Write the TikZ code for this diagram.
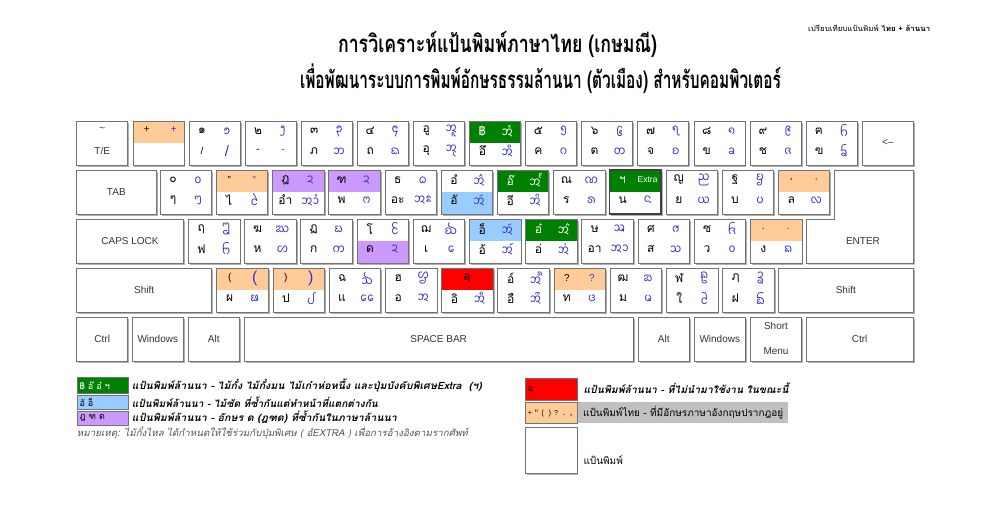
\documentclass[tikz,border=0pt]{standalone}
\usepackage{fontspec}
\usepackage{graphicx}
\setmainfont{Liberation Sans}
\newfontfamily\thai[Script=Thai]{Loma}
\newfontfamily\monoth{Liberation Mono}
\IfFontExistsTF{Noto Sans Tai Tham}{\newfontfamily\lanna{Noto Sans Tai Tham}}{\newfontfamily\lanna{DejaVu Sans}}
\definecolor{kpeach}{RGB}{255,204,153}
\definecolor{kgreen}{RGB}{0,128,0}
\definecolor{kblue}{RGB}{153,204,255}
\definecolor{kpurple}{RGB}{204,153,255}
\definecolor{kred}{RGB}{255,0,0}
\definecolor{lannablue}{RGB}{51,51,204}
\definecolor{keyedge}{RGB}{115,115,115}
\definecolor{keyshade}{RGB}{175,175,175}
\definecolor{hilite}{RGB}{192,192,192}
\definecolor{notegray}{RGB}{85,85,85}
\tikzset{
  keybox/.style={draw=keyedge,fill=white,line width=0.6pt,inner sep=0pt,outer sep=0pt,rectangle},
  keyline/.style={draw=keyedge,line width=0.6pt},
  th/.style={font=\thai\fontsize{12}{13}\selectfont,inner sep=0pt,text=black},
  ln/.style={font=\lanna\fontsize{12}{13}\selectfont,inner sep=0pt,text=lannablue},
  lbl/.style={font=\fontsize{10}{12}\selectfont,inner sep=0pt,text=black!80},
  legbox/.style={draw=keyedge,line width=0.6pt,anchor=north west,text width=46pt,align=left,inner xsep=2.5pt,inner ysep=0pt,font=\thai\fontsize{9}{10}\selectfont},
  legt/.style={font=\thai\bfseries\itshape\fontsize{10}{11}\selectfont,anchor=west,inner sep=0pt},
  legp/.style={font=\thai\fontsize{10}{11}\selectfont,anchor=west,inner sep=0pt},
}
\newcommand\LB[1]{{\normalfont\fontsize{10}{12}\selectfont #1}}
\newcommand\K[4]{%
  \fill[keyshade] (#2+1.6,#3+1.6) rectangle (#2+#4+1.6,#3+45.6);
  \node[keybox,minimum width=#4pt,minimum height=44pt,anchor=north west] (#1) at (#2,#3) {};}
\newcommand\KTop[2]{\fill[#2] (#1.north west) rectangle (#1.east);\draw[keyline] (#1.north west) rectangle (#1.south east);}
\newcommand\KBot[2]{\fill[#2] (#1.west) rectangle (#1.south east);\draw[keyline] (#1.north west) rectangle (#1.south east);}
\newcommand\KT[5]{%
  \node[th] (#1a) at ([shift={(13,10)}]#1.north west) {#2};
  \node[ln] (#1b) at ([shift={(38,10)}]#1.north west) {#3};
  \node[th] (#1c) at ([shift={(13,30)}]#1.north west) {#4};
  \node[ln] (#1d) at ([shift={(38,30)}]#1.north west) {#5};}
\begin{document}
\begin{tikzpicture}[x=1pt,y=-1pt]
\fill[white] (0,0) rectangle (993,505);
\useasboundingbox (0,0) rectangle (993,505);
% titles
\node[font=\thai\bfseries\fontsize{24}{26}\selectfont,inner sep=0pt] (t1) at (497.5,44) {\resizebox{319pt}{\height}{การวิเคราะห์แป้นพิมพ์ภาษาไทย (เกษมณี)}};
\node[font=\thai\bfseries\fontsize{24}{26}\selectfont,inner sep=0pt] (t2) at (540.5,79) {\resizebox{481pt}{\height}{เพื่อพัฒนาระบบการพิมพ์อักษรธรรมล้านนา (ตัวเมือง) สำหรับคอมพิวเตอร์}};
\node[font=\thai\fontsize{7.5}{8}\selectfont,anchor=west,inner sep=0pt] (t0) at (808,28) {\resizebox{122pt}{\height}{เปรียบเทียบแป้นพิมพ์ \textbf{ไทย + ล้านนา}}};
% ---------------- row 1
\K{r1a}{76.7}{121}{51}
\node[lbl] (r1aa) at (102.2,130) {\textasciitilde};
\node[lbl] (r1ab) at (102.2,151) {T/E};
\K{r1b}{132.8}{121}{51}\KTop{r1b}{kpeach}
\node[th] (r1ba) at (146.8,130) {\LB{+}};
\node[ln] (r1bb) at (173.8,130) {\LB{+}};
\K{r1c}{188.9}{121}{51}\KT{r1c}{๑}{^^^^1a81}{\LB{/}}{\LB{\fontsize{15}{15}\selectfont /}}
\K{r1d}{245.0}{121}{51}\KT{r1d}{๒}{^^^^1a82}{\LB{-}}{\LB{-}}
\K{r1e}{301.1}{121}{51}\KT{r1e}{๓}{^^^^1a83}{ภ}{^^^^1a3d}
\K{r1f}{357.2}{121}{51}\KT{r1f}{๔}{^^^^1a84}{ถ}{^^^^1a33}
\K{r1g}{413.3}{121}{51}\KT{r1g}{อู}{^^^^1a4b^^^^1a6a}{อุ}{^^^^1a4b^^^^1a69}
\K{r1h}{469.4}{121}{51}\KTop{r1h}{kgreen}\KT{r1h}{\color{white}฿}{\color{white}^^^^1a4b^^^^1a74}{อึ}{^^^^1a4b^^^^1a67}
\K{r1i}{525.5}{121}{51}\KT{r1i}{๕}{^^^^1a85}{ค}{^^^^1a23}
\K{r1j}{581.6}{121}{51}\KT{r1j}{๖}{^^^^1a86}{ต}{^^^^1a32}
\K{r1k}{637.7}{121}{51}\KT{r1k}{๗}{^^^^1a87}{จ}{^^^^1a27}
\K{r1l}{693.8}{121}{51}\KT{r1l}{๘}{^^^^1a88}{ข}{^^^^1a21}
\K{r1m}{749.9}{121}{51}\KT{r1m}{๙}{^^^^1a89}{ช}{^^^^1a29}
\K{r1n}{806.0}{121}{51}\KT{r1n}{ฅ}{^^^^1a24}{ฃ}{^^^^1a22}
\K{bksp}{862.1}{121}{51.2}
\node[lbl] (bkspt) at (bksp) {<--};
% ---------------- row 2
\K{tab}{76.7}{170}{79.3}
\node[lbl] (tabt) at (tab) {TAB};
\K{r2a}{160.0}{170}{51.5}\KT{r2a}{๐}{^^^^1a80}{ๆ}{^^^^1aa7}
\K{r2b}{216.2}{170}{51.5}\KTop{r2b}{kpeach}\KT{r2b}{\LB{"}}{\LB{"}}{ไ}{^^^^1a71}
\K{r2c}{272.4}{170}{51.5}\KTop{r2c}{kpurple}\KT{r2c}{ฎ}{^^^^1a2f}{อำ}{^^^^1a4b^^^^1a63^^^^1a74}
\K{r2d}{328.6}{170}{51.5}\KTop{r2d}{kpurple}\KT{r2d}{ฑ}{^^^^1a2f}{พ}{^^^^1a3b}
\K{r2e}{384.8}{170}{51.5}\KT{r2e}{ธ}{^^^^1a35}{อะ}{^^^^1a4b^^^^1a61}
\K{r2f}{441.0}{170}{51.5}\KBot{r2f}{kblue}\KT{r2f}{อํ}{^^^^1a4b^^^^1a73}{อั}{^^^^1a4b^^^^1a62}
\K{r2g}{497.2}{170}{51.5}\KTop{r2g}{kgreen}\KT{r2g}{\color{white}อ๊}{\color{white}^^^^1a4b^^^^1a58}{อี}{^^^^1a4b^^^^1a66}
\K{r2h}{553.4}{170}{51.5}\KT{r2h}{ณ}{^^^^1a31}{ร}{^^^^1a41}
\K{r2i}{609.6}{170}{51.5}\KTop{r2i}{kgreen}
\draw[line width=1.4pt,black!75] (r2i.north west) rectangle (r2i.south east);
\KT{r2i}{\color{white}ฯ}{\LB{\color{white}\fontsize{8.5}{10}\selectfont Extra}}{น}{^^^^1a36}
\K{r2j}{665.8}{170}{51.5}\KT{r2j}{ญ}{^^^^1a2c}{ย}{^^^^1a3f}
\K{r2k}{722.0}{170}{51.5}\KT{r2k}{ฐ}{^^^^1a2e}{บ}{^^^^1a37}
\K{r2l}{778.2}{170}{51.5}\KTop{r2l}{kpeach}\KT{r2l}{\LB{,}}{\LB{,}}{ล}{^^^^1a43}
% enter (L shape)
\fill[keyshade] (835.6,171.6) -- (914.9,171.6) -- (914.9,264.6) -- (807.6,264.6) -- (807.6,220.6) -- (835.6,220.6) -- cycle;
\draw[keybox] (834,170) -- (913.3,170) -- (913.3,263) -- (806,263) -- (806,219) -- (834,219) -- cycle;
\node[lbl] (entert) at (863,241) {ENTER};
% ---------------- row 3
\K{caps}{76.7}{219}{106.6}
\node[lbl] (capst) at (caps) {CAPS LOCK};
\K{r3a}{188.3}{219}{51.5}\KT{r3a}{ฤ}{^^^^1a42}{ฟ}{^^^^1a3c}
\K{r3b}{244.5}{219}{51.5}\KT{r3b}{ฆ}{^^^^1a25}{ห}{^^^^1a49}
\K{r3c}{300.7}{219}{51.5}\KT{r3c}{ฏ}{^^^^1a2d}{ก}{^^^^1a20}
\K{r3d}{356.9}{219}{51.5}\KBot{r3d}{kpurple}\KT{r3d}{โ}{^^^^1a70}{ด}{^^^^1a2f}
\K{r3e}{413.1}{219}{51.5}\KT{r3e}{ฌ}{^^^^1a2b}{เ}{^^^^1a6e}
\K{r3f}{469.3}{219}{51.5}\KTop{r3f}{kblue}\KT{r3f}{อ็}{^^^^1a4b^^^^1a62}{อ้}{^^^^1a4b^^^^1a76}
\K{r3g}{525.5}{219}{51.5}\KTop{r3g}{kgreen}\KT{r3g}{\color{white}อ๋}{\color{white}^^^^1a4b^^^^1a77}{อ่}{^^^^1a4b^^^^1a75}
\K{r3h}{581.7}{219}{51.5}\KT{r3h}{ษ}{^^^^1a47}{อา}{^^^^1a4b^^^^1a63}
\K{r3i}{637.9}{219}{51.5}\KT{r3i}{ศ}{^^^^1a46}{ส}{^^^^1a48}
\K{r3j}{694.1}{219}{51.5}\KT{r3j}{ซ}{^^^^1a2a}{ว}{^^^^1a45}
\K{r3k}{750.3}{219}{51.5}\KTop{r3k}{kpeach}\KT{r3k}{\LB{.}}{\LB{.}}{ง}{^^^^1a26}
% ---------------- row 4
\K{lshift}{76.7}{268.3}{135}
\node[lbl] (lshiftt) at (lshift) {Shift};
\K{r4a}{216.7}{268.3}{51.5}\KTop{r4a}{kpeach}\KT{r4a}{\LB{(}}{\LB{\fontsize{16}{16}\selectfont (}}{ผ}{^^^^1a39}
\K{r4b}{272.9}{268.3}{51.5}\KTop{r4b}{kpeach}\KT{r4b}{\LB{)}}{\LB{\fontsize{16}{16}\selectfont )}}{ป}{^^^^1a38}
\K{r4c}{329.1}{268.3}{51.5}\KT{r4c}{ฉ}{^^^^1a28}{แ}{^^^^1a6f}
\K{r4d}{385.3}{268.3}{51.5}\KT{r4d}{ฮ}{^^^^1a4c}{อ}{^^^^1a4b}
\K{r4e}{441.5}{268.3}{51.5}\KTop{r4e}{kred}
\node[th] (r4ea) at ([shift={(25.5,10)}]r4e.north west) {อฺ};
\node[th] (r4ec) at ([shift={(13,30)}]r4e.north west) {อิ};
\node[ln] (r4ed) at ([shift={(38,30)}]r4e.north west) {^^^^1a4b^^^^1a65};
\K{r4f}{497.7}{268.3}{51.5}\KT{r4f}{อ์}{^^^^1a4b^^^^1a7a}{อื}{^^^^1a4b^^^^1a68}
\K{r4g}{553.9}{268.3}{51.5}\KTop{r4g}{kpeach}\KT{r4g}{\LB{?}}{\LB{?}}{ท}{^^^^1a34}
\K{r4h}{610.1}{268.3}{51.5}\KT{r4h}{ฒ}{^^^^1a30}{ม}{^^^^1a3e}
\K{r4i}{666.3}{268.3}{51.5}\KT{r4i}{ฬ}{^^^^1a4a}{ใ}{^^^^1a72}
\K{r4j}{722.5}{268.3}{51.5}\KT{r4j}{ฦ}{^^^^1a44}{ฝ}{^^^^1a3a}
\K{rshift}{778.3}{268.3}{135}
\node[lbl] (rshiftt) at (rshift) {Shift};
% ---------------- row 5
\K{lctrl}{76.7}{317.3}{51}\node[lbl] (lctrlt) at (lctrl) {Ctrl};
\K{lwin}{132.3}{317.3}{51}\node[lbl] (lwint) at (lwin) {Windows};
\K{lalt}{188.3}{317.3}{51}\node[lbl] (laltt) at (lalt) {Alt};
\K{space}{244}{317.3}{389.3}\node[lbl] (spacet) at (space) {SPACE BAR};
\K{ralt}{638.3}{317.3}{51}\node[lbl] (raltt) at (ralt) {Alt};
\K{rwin}{694.3}{317.3}{51}\node[lbl] (rwint) at (rwin) {Windows};
\K{menu}{750.3}{317.3}{51.4}
\node[lbl] (menut1) at (776,326) {Short};
\node[lbl] (menut2) at (776,351.5) {Menu};
\K{rctrl}{806}{317.3}{107.3}\node[lbl] (rctrlt) at (rctrl) {Ctrl};
% ---------------- legend left
\node[legbox,fill=kgreen,text=white,minimum height=16pt] (lg1) at (76.7,377.3) {฿ อ๊ อ๋ ฯ};
\node[legbox,fill=kblue,minimum height=14pt] (lg2) at (76.7,395) {อั อ็};
\node[legbox,fill=kpurple,minimum height=14.3pt] (lg3) at (76.7,410.7) {ฎ ฑ ด};
\node[legt] (lt1) at (131.7,385.5) {\resizebox{350pt}{\height}{แป้นพิมพ์ล้านนา - ไม้กั๋ง ไม้กั๋งมน ไม้เก๋าห่อหนึ้ง และปุ่มบังคับพิเศษExtra~~(ฯ)}};
\node[legt] (lt2) at (131.7,402.5) {\resizebox{246pt}{\height}{แป้นพิมพ์ล้านนา - ไม้ซัด ที่ซ้ำกันแต่ทำหน้าที่แตกต่างกัน}};
\node[legt] (lt3) at (131.7,417.5) {\resizebox{265pt}{\height}{แป้นพิมพ์ล้านนา - อักษร ด (ฎฑด) ที่ซ้ำกันในภาษาล้านนา}};
\node[font=\thai\itshape\fontsize{9.5}{10}\selectfont,text=notegray,anchor=west,inner sep=0pt] (note) at (76.7,433) {\resizebox{391pt}{\height}{หมายเหตุ: ไม้กั๋งไหล ได้กำหนดให้ใช้ร่วมกับปุ่มพิเศษ ( อํEXTRA ) เพื่อการอ้างอิงตามรากศัพท์}};
% ---------------- legend right
\node[legbox,fill=kred,minimum height=21.7pt,text width=46.7pt] (lg4) at (525,378.3) {อฺ};
\node[legbox,fill=kpeach,minimum height=21pt,text width=46.7pt,font=\monoth\fontsize{7.5}{9}\selectfont] (lg5) at (525,402.3) {\resizebox{46pt}{\height}{+ " ( ) ? . ,}};
\fill[keyshade] (526.6,428.9) rectangle (578.3,474.9);
\node[legbox,fill=white,minimum height=46pt,text width=46.7pt] (lg6) at (525,427.3) {};
\node[legt] (lt4) at (583.3,388) {\resizebox{205pt}{\height}{แป้นพิมพ์ล้านนา - ที่ไม่นำมาใช้งาน ในขณะนี้}};
\node[legp,fill=hilite,minimum height=21pt,inner xsep=5pt,anchor=west] (lt5) at (578,412.7) {\resizebox{200pt}{\height}{แป้นพิมพ์ไทย - ที่มีอักษรภาษาอังกฤษปรากฎอยู่}};
\node[legp] (lt6) at (583.3,460.5) {แป้นพิมพ์};
\end{tikzpicture}
\end{document}
